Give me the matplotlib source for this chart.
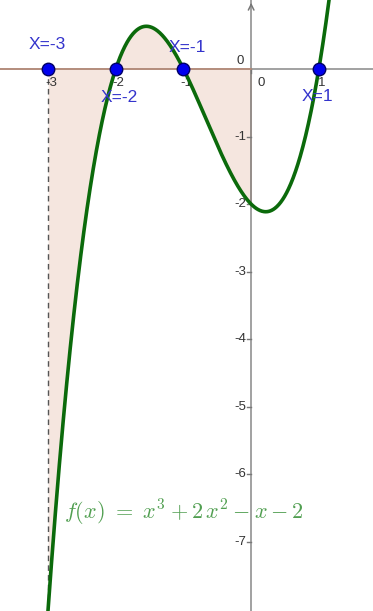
import numpy as np
import matplotlib
matplotlib.use("Agg")
import matplotlib.pyplot as plt

# ---- data ----
coeffs = [1, 2, -1, -2]          # f(x) = x^3 + 2x^2 - x - 2
fill_range = [-3, 0]
point_x = [-3, -2, -1, 1]
point_labels = ["X=-3", "X=-2", "X=-1", "X=1"]
label_offsets = [(-1, 24), (3, -29), (4, 21), (-1, -28)]   # pixels
x_ticks = [-3, -2, -1, 0, 1]
x_tick_labels = ["-3", "-2", "-1", "0", "1"]
y_ticks = [0, -1, -2, -3, -4, -5, -6, -7]
y_tick_labels = ["0", "-1", "-2", "-3", "-4", "-5", "-6", "-7"]
formula = r"$f(x)\ =\ x^3 + 2\,x^2 - x - 2$"

plt.rcParams['mathtext.fontset'] = 'cm'
f = np.poly1d(coeffs)

fig = plt.figure(figsize=(3.73, 6.11), dpi=100)
ax = fig.add_axes([0, 0, 1, 1])
xlim = (-3.71, 1.80)
ylim = (-8.02, 1.02)
ax.set_xlim(*xlim)
ax.set_ylim(*ylim)
ax.axis('off')

# shaded integral region
xf = np.linspace(fill_range[0], fill_range[1], 400)
ax.fill_between(xf, f(xf), 0, color="#f5e6df", zorder=1, linewidth=0)
ax.plot([fill_range[1], fill_range[1]], [0, f(fill_range[1])], color="#c09a88", lw=1.2, zorder=2)
ax.axhline(0, color="#888888", lw=1.1, zorder=2)
ax.plot([xlim[0], fill_range[1]], [0, 0], color="#b98c78", lw=1.2, zorder=2.5)
ax.plot([fill_range[0], fill_range[0]], [0, f(fill_range[0])], color="#555555",
        lw=1.0, ls=(0, (4, 3)), zorder=2)

# y axis
ax.axvline(0, color="#888888", lw=1.1, zorder=2)
ax.annotate("", xy=(0, ylim[1]), xytext=(0, ylim[1] - 0.12),
            arrowprops=dict(arrowstyle="->", color="#777777", lw=1.1), zorder=3)

# ticks
px_x = (xlim[1] - xlim[0]) / 373.0
px_y = (ylim[1] - ylim[0]) / 611.0
tick_fs = 9.5
for xt, lab in zip(x_ticks, x_tick_labels):
    ax.plot([xt, xt], [0, -4 * px_y], color="#777777", lw=1, zorder=2)
    dx = 10 if xt == 0 else 3
    ax.text(xt + dx * px_x, -14 * px_y, lab, ha="center", va="center",
            fontsize=tick_fs, color="#333333", family="Liberation Sans", zorder=3)
for yt, lab in zip(y_ticks, y_tick_labels):
    if yt == 0:
        ax.text(-11 * px_x, 8 * px_y, lab, ha="center", va="center",
                fontsize=tick_fs, color="#333333", family="Liberation Sans", zorder=3)
        continue
    ax.plot([-4 * px_x, 0], [yt, yt], color="#777777", lw=1, zorder=2)
    ax.text(-5 * px_x, yt, lab, ha="right", va="center",
            fontsize=tick_fs, color="#333333", family="Liberation Sans", zorder=3)

# curve
xc = np.linspace(-3.3, 1.3, 800)
ax.plot(xc, f(xc), color="#0b6a0b", lw=2.6, zorder=4, solid_capstyle="round")

# points
ax.plot(point_x, [0] * len(point_x), "o", ms=9, mfc="#0000ee", mec="#000066",
        mew=1, zorder=5)
for x, lab, (ox, oy) in zip(point_x, point_labels, label_offsets):
    ax.annotate(lab, (x, 0), xytext=(ox, oy), textcoords="offset pixels",
                ha="center", va="center", fontsize=12.5, color="#3434cc",
                family="Liberation Sans", zorder=6)

# formula
ax.text(64 * px_x + xlim[0], -6.57, formula, fontsize=16, color="#519f51",
        ha="left", va="center", zorder=6)

fig.savefig("out.png", dpi=100)
